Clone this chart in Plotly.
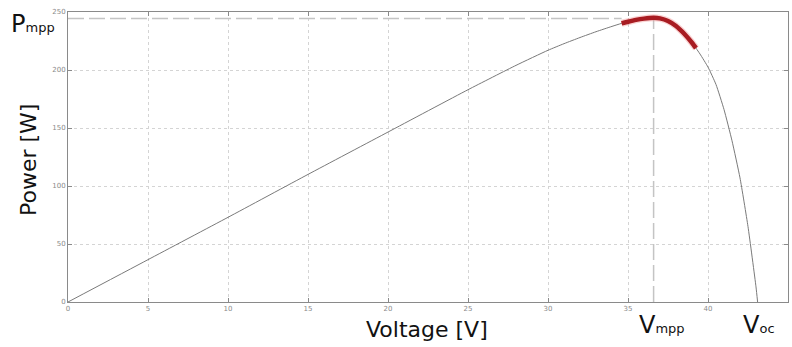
import plotly.graph_objects as go

# Data
voltage = [0, 5, 10, 15, 20, 25, 28, 30, 31, 32, 33, 34, 34.6, 35, 35.5, 36, 36.6, 37, 37.5, 38, 38.5,
           39, 39.25, 39.5, 40, 40.5, 41, 41.5, 42, 42.5, 43, 43.1]
power = [0, 36.5, 73, 110, 146.5, 183, 204, 217, 222.7, 228, 233, 237.6, 240.2, 241.6, 243.2, 244.3, 245,
         244.5, 242.3, 238, 231.5, 223.5, 218.8, 213.8, 202.5, 187.5, 166, 139, 107, 65, 13, 0]
v_mpp = 36.6
p_mpp = 244.5
v_oc = 43.1
mpp_band = (34.6, 39.25)
x_ticks = [0, 5, 10, 15, 20, 25, 30, 35, 40, 45]
y_ticks = [0, 50, 100, 150, 200, 250]

band_v = [v for v in voltage if mpp_band[0] <= v <= mpp_band[1]]
band_p = [p for v, p in zip(voltage, power) if mpp_band[0] <= v <= mpp_band[1]]

fig = go.Figure()
# dashed guides
guide = dict(color="#c4c4c4", width=1.5, dash="16px,5px")
fig.add_trace(go.Scatter(x=[0, mpp_band[0]], y=[p_mpp, p_mpp], mode="lines", line=guide, hoverinfo="skip"))
fig.add_trace(go.Scatter(x=[v_mpp, v_mpp], y=[0, p_mpp], mode="lines", line=guide, hoverinfo="skip"))
# main curve
fig.add_trace(go.Scatter(x=voltage, y=power, mode="lines",
                         line=dict(color="#7a7a7a", width=1, shape="spline", smoothing=0.5)))
# glow + red highlight
fig.add_trace(go.Scatter(x=band_v, y=band_p, mode="lines",
                         line=dict(color="rgba(240,110,110,0.3)", width=7, shape="spline", smoothing=0.5),
                         hoverinfo="skip"))
fig.add_trace(go.Scatter(x=band_v, y=band_p, mode="lines",
                         line=dict(color="#a81c22", width=4.5, shape="spline", smoothing=0.5)))

axis_common = dict(showline=True, linecolor="#8a8a8a", linewidth=1, mirror="ticks",
                   ticks="inside", ticklen=4, tickcolor="#8a8a8a",
                   showgrid=True, gridcolor="#d4d4d4", griddash="dot", gridwidth=1,
                   zeroline=False, tickfont=dict(size=7, color="#8a8a8a", family="DejaVu Sans"))

fig.update_xaxes(range=[0, 45], tickvals=x_ticks, **axis_common)
fig.update_yaxes(range=[0, 250], tickvals=y_ticks, **axis_common)

font_fam = "DejaVu Sans"
fig.update_layout(
    width=792, height=347, autosize=False,
    margin=dict(l=68, r=4, t=12, b=45, autoexpand=False),
    paper_bgcolor="white", plot_bgcolor="white",
    showlegend=False, hovermode=False,
    font=dict(family=font_fam, color="#111"),
)

fig.add_annotation(text="Voltage [V]", xref="paper", yref="paper", x=(427 - 68) / 720, y=-(329 - 302) / 290,
                   showarrow=False, font=dict(size=22, family=font_fam, color="#111"), xanchor="center", yanchor="middle")
fig.add_annotation(text="Power [W]", xref="paper", yref="paper", x=-(68 - 28) / 720, y=(302 - 160) / 290,
                   showarrow=False, textangle=-90, font=dict(size=22, family=font_fam, color="#111"),
                   xanchor="center", yanchor="middle")
fig.add_annotation(text="P<span style='font-size:13px'>mpp</span>", xref="paper", yref="paper",
                   x=-(68 - 9) / 720, y=(302 - 24) / 290, showarrow=False,
                   font=dict(size=24, family=font_fam, color="#111"), xanchor="left", yanchor="middle")
fig.add_annotation(text="V<span style='font-size:13px'>mpp</span>", xref="x", yref="paper",
                   x=v_mpp + 0.5, y=-(325 - 302) / 290, showarrow=False,
                   font=dict(size=24, family=font_fam, color="#111"), xanchor="center", yanchor="middle")
fig.add_annotation(text="V<span style='font-size:13px'>oc</span>", xref="x", yref="paper",
                   x=v_oc + 0.1, y=-(325 - 302) / 290, showarrow=False,
                   font=dict(size=24, family=font_fam, color="#111"), xanchor="center", yanchor="middle")

fig.write_html("out.html", config={"responsive": False, "displayModeBar": False},
               post_script="document.body.style.margin='0';document.body.style.overflow='hidden';")
